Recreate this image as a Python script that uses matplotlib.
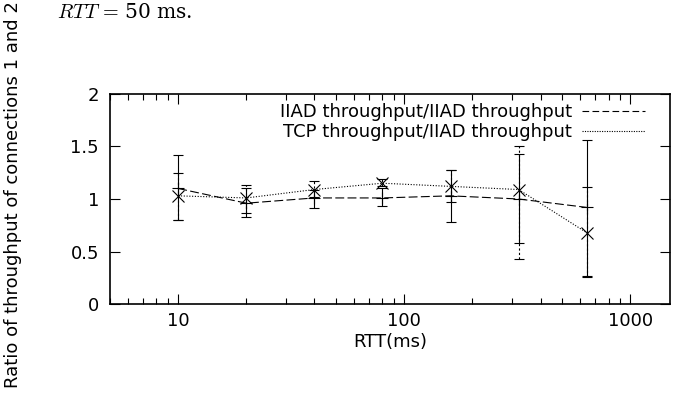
import numpy as np
import matplotlib.pyplot as plt
from matplotlib.lines import Line2D

rtt = [10, 20, 40, 80, 160, 320, 640]

iiad_mean = [1.10, 0.96, 1.01, 1.01, 1.03, 1.00, 0.92]
iiad_low = [0.80, 0.83, 0.91, 0.93, 0.78, 0.58, 0.27]
iiad_high = [1.42, 1.10, 1.09, 1.10, 1.28, 1.43, 1.56]

tcp_mean = [1.03, 1.01, 1.09, 1.15, 1.12, 1.09, 0.68]
tcp_low = [0.80, 0.87, 1.02, 1.12, 0.97, 0.43, 0.26]
tcp_high = [1.25, 1.13, 1.17, 1.19, 1.28, 1.50, 1.11]

fs = 13

fig = plt.figure(figsize=(6.84, 3.96), dpi=100)
ax = fig.add_axes([0.161, 0.232, 0.819, 0.531])

iiad_err = [np.subtract(iiad_mean, iiad_low), np.subtract(iiad_high, iiad_mean)]
tcp_err = [np.subtract(tcp_mean, tcp_low), np.subtract(tcp_high, tcp_mean)]

ax.errorbar(rtt, iiad_mean, yerr=iiad_err, color='black', lw=0.8,
            linestyle=(0, (8, 3)), marker='+', markersize=9, mew=0.8,
            capsize=3.6, elinewidth=0.8, capthick=0.8)
e2 = ax.errorbar(rtt, tcp_mean, yerr=tcp_err, color='black', lw=0.8,
                 linestyle=(0, (1, 1.5)), marker='x', markersize=8, mew=0.8,
                 capsize=3.6, elinewidth=0.8, capthick=0.8)
for lc in e2[2]:
    lc.set_linestyle((0, (2, 2)))

ax.set_xscale('log')
ax.set_xlim(5, 1500)
ax.set_ylim(0, 2)
ax.set_yticks([0, 0.5, 1, 1.5, 2])
ax.set_yticklabels(['0', '0.5', '1', '1.5', '2'])
ax.set_xticks([10, 100, 1000])
ax.set_xticklabels(['10', '100', '1000'])
ax.tick_params(which='both', direction='in', top=True, right=True, labelsize=fs, width=0.8)
ax.tick_params(which='major', length=7)
ax.tick_params(axis='x', which='major', pad=6)
ax.tick_params(axis='y', which='major', pad=8)
ax.tick_params(which='minor', length=4)
for s in ax.spines.values():
    s.set_linewidth(1.2)

ax.set_xlabel('RTT(ms)', fontsize=fs, labelpad=2)
fig.text(0.019, 0.508, 'Ratio of throughput of connections 1 and 2', rotation=90,
         fontsize=fs, ha='center', va='center')
fig.text(0.083, 0.968, r'$RTT\,=\,$50 ms.', fontsize=14.5, family='serif',
         ha='left', va='center', math_fontfamily='cm')

handles = [Line2D([], [], color='black', lw=0.8, linestyle=(0, (6, 3))),
           Line2D([], [], color='black', lw=0.8, linestyle=(0, (1, 1.2)))]
labels = ['IIAD throughput/IIAD throughput', 'TCP throughput/IIAD throughput']
ax.legend(handles, labels, loc='upper right', frameon=False, markerfirst=False,
          fontsize=fs, handlelength=3.5, handletextpad=0.55, labelspacing=0.1,
          borderpad=0, borderaxespad=0, bbox_to_anchor=(0.955, 0.955))

fig.savefig('out.png', dpi=100)
